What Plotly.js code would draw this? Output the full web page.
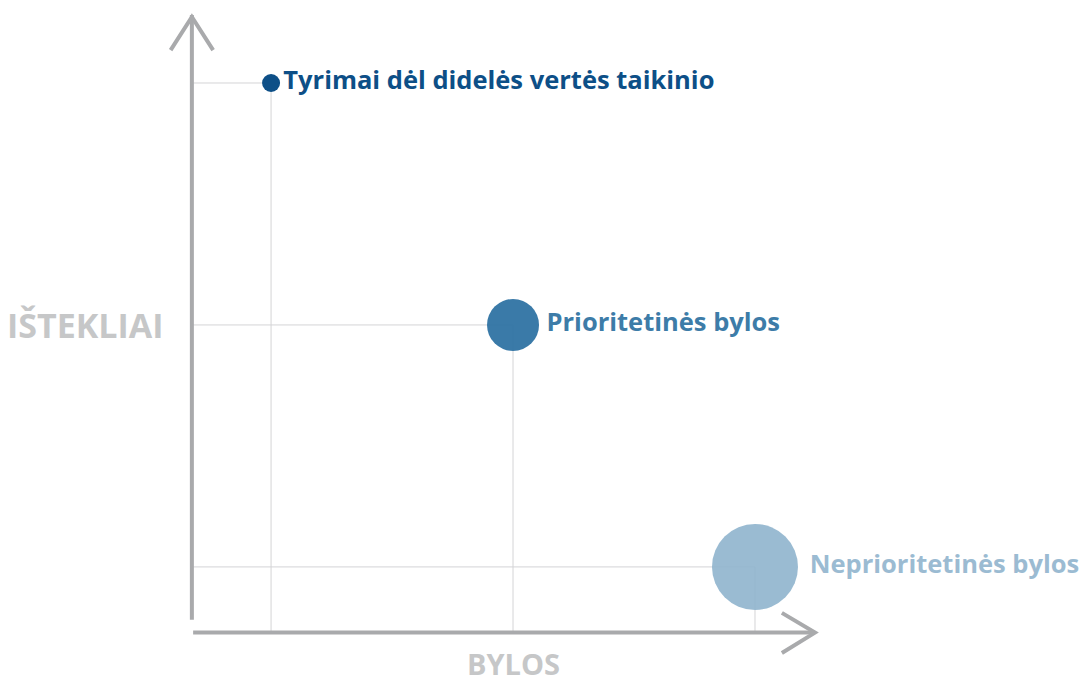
<!DOCTYPE html>
<html><head><meta charset="utf-8">
<script src="https://cdn.plot.ly/plotly-3.0.1.min.js"></script>
<style>html,body{margin:0;padding:0;background:#fff}#c{width:1084px;height:681px}</style>
</head><body><div id="c"></div>
<script>
const labels = ["Tyrimai dėl didelės vertės taikinio", "Prioritetinės bylos", "Neprioritetinės bylos"];
const bylos = [1, 2, 3];
const istekliai = [3, 2, 1];
const sizes = [18, 52, 86];
const colors = ["#0d4f87", "#2f73a3", "#8fb4cd"];
const textColors = ["#0d4f87", "#3d7ca8", "#9bbbd2"];
const xTitle = "BYLOS";
const yTitle = "IŠTEKLIAI";

const FONT = "'Open Sans', 'Noto Sans', sans-serif";
const X0 = 0.665, Y0 = 0.731;
const traces = [];
for (let i = 0; i < bylos.length; i++) {
  traces.push({
    type: "scatter", mode: "lines", hoverinfo: "skip", showlegend: false,
    x: [X0 + 0.01, bylos[i], bylos[i]], y: [istekliai[i], istekliai[i], Y0],
    line: {color: "#d4d4d6", width: 1}
  });
}
traces.push({
  type: "scatter", mode: "markers+text", showlegend: false,
  x: bylos, y: istekliai, text: labels, textposition: "middle right",
  textfont: {family: FONT, size: 25.5, color: textColors, weight: 700},
  marker: {size: sizes, sizemode: "diameter", color: colors, opacity: [1, 0.95, 0.9], line: {width: 0}},
  cliponaxis: false
});

const gray = "#a9aaac";
const layout = {
  width: 1084, height: 681,
  margin: {l: 190, r: 269, t: 15, b: 49},
  paper_bgcolor: "#fff", plot_bgcolor: "#fff",
  xaxis: {range: [X0, 3.248], showgrid: false, zeroline: false, showticklabels: false, showline: false, ticks: ""},
  yaxis: {range: [Y0, 3.281], showgrid: false, zeroline: false, showticklabels: false, showline: false, ticks: ""},
  shapes: [
    {type: "line", xref: "paper", yref: "paper", x0: 0.003, y0: 0.02, x1: 0.003, y1: 1, line: {color: gray, width: 4}},
    {type: "path", xref: "paper", yref: "paper", path: "M -0.031,0.943 L 0.003,0.997 L 0.037,0.943", line: {color: gray, width: 4}},
    {type: "line", xref: "paper", yref: "paper", x0: 0.005, y0: -0.001, x1: 1.0, y1: -0.001, line: {color: gray, width: 4}},
    {type: "path", xref: "paper", yref: "paper", path: "M 0.947,0.031 L 1.0,-0.001 L 0.947,-0.034", line: {color: gray, width: 4}}
  ],
  annotations: [
    {xref: "paper", yref: "y", x: -0.04, y: 2, xanchor: "right", yanchor: "middle", text: yTitle, showarrow: false,
     font: {family: FONT, size: 34, color: "#c6c7c8", weight: 700}},
    {xref: "x", yref: "paper", x: 2, y: -0.016, xanchor: "center", yanchor: "top", text: xTitle, showarrow: false,
     font: {family: FONT, size: 29, color: "#c6c7c8", weight: 700}}
  ]
};
Plotly.newPlot("c", traces, layout, {displayModeBar: false, staticPlot: true});
</script></body></html>
